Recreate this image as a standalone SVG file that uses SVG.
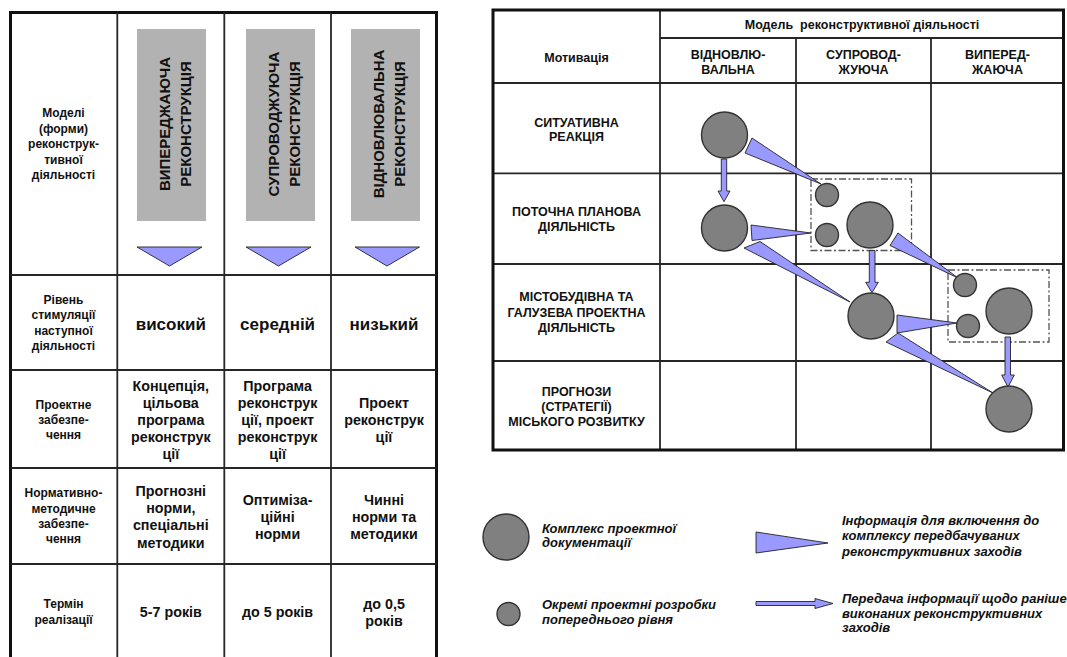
<svg xmlns="http://www.w3.org/2000/svg" width="1067" height="657" viewBox="0 0 1067 657">
  <style>
    text { font-family: "Liberation Sans", Arial, sans-serif; font-weight: bold; fill: #111; text-anchor: middle; }
    .lbl { font-size: 12px; }
    .big { font-size: 17px; }
    .val { font-size: 14.3px; }
    .vert { font-size: 15px; }
    .hdr { font-size: 12.5px; }
    .leg { font-size: 13px; font-style: italic; text-anchor: start; }
    .outer { fill: none; stroke: #111; stroke-width: 3; }
    .grid { stroke: #262626; stroke-width: 1.8; fill: none; }
    .band { fill: #b2b2b2; }
    .wedge { fill: #9999ff; stroke: #222; stroke-width: 0.9; stroke-linejoin: miter; }
    .doc { fill: #808080; stroke: #333; stroke-width: 1.4; }
    .group { fill: none; stroke: #555; stroke-width: 1.3; stroke-dasharray: 7 2.5 2 2.5; }
  </style>

  <!-- ===== Left table: models of reconstruction activity ===== -->
  <g id="left-table">
    <rect class="outer" x="10.5" y="12.5" width="426" height="670"/>
    <path class="grid" d="M117.3 12.5V670 M224.3 12.5V670 M331 12.5V670 M10.5 275H436.5 M10.5 370H436.5 M10.5 468H436.5 M10.5 564H436.5"/>
  </g>

  <g id="left-header">
    <text class="lbl"><tspan x="63.5" y="117">Моделі</tspan><tspan x="63.5" y="132.5">(форми)</tspan><tspan x="63.5" y="148">реконструк-</tspan><tspan x="63.5" y="163.5">тивної</tspan><tspan x="63.5" y="179">діяльності</tspan></text>
  </g>

  <g id="col-advance">
    <rect class="band" x="137" y="29" width="69" height="192"/>
    <text class="vert" transform="translate(170 124) rotate(-90)" x="0" y="0">ВИПЕРЕДЖАЮЧА</text>
    <text class="vert" transform="translate(191 124) rotate(-90)" x="0" y="0">РЕКОНСТРУКЦІЯ</text>
    <polygon class="wedge" points="137,247 202,247 169.5,266"/>
  </g>
  <g id="col-accompany">
    <rect class="band" x="246" y="29" width="69" height="192"/>
    <text class="vert" transform="translate(279 124) rotate(-90)" x="0" y="0">СУПРОВОДЖУЮЧА</text>
    <text class="vert" transform="translate(300 124) rotate(-90)" x="0" y="0">РЕКОНСТРУКЦІЯ</text>
    <polygon class="wedge" points="246,247 311,247 278.5,266"/>
  </g>
  <g id="col-restore">
    <rect class="band" x="351" y="29" width="69" height="192"/>
    <text class="vert" transform="translate(384 124) rotate(-90)" x="0" y="0">ВІДНОВЛЮВАЛЬНА</text>
    <text class="vert" transform="translate(405 124) rotate(-90)" x="0" y="0">РЕКОНСТРУКЦІЯ</text>
    <polygon class="wedge" points="355,247 419.5,247 387,266"/>
  </g>

  <g id="row-stimulation">
    <text class="lbl"><tspan x="63.5" y="304">Рівень</tspan><tspan x="63.5" y="319">стимуляції</tspan><tspan x="63.5" y="335">наступної</tspan><tspan x="63.5" y="350">діяльності</tspan></text>
    <text class="big" x="170.8" y="330">високий</text>
    <text class="big" x="277.6" y="330">середній</text>
    <text class="big" x="384" y="330">низький</text>
  </g>

  <g id="row-project">
    <text class="lbl"><tspan x="63.5" y="409">Проектне</tspan><tspan x="63.5" y="424">забезпе-</tspan><tspan x="63.5" y="438.5">чення</tspan></text>
    <text class="val"><tspan x="170.8" y="391">Концепція,</tspan><tspan x="170.8" y="408">цільова</tspan><tspan x="170.8" y="425">програма</tspan><tspan x="170.8" y="442">реконструк</tspan><tspan x="170.8" y="459">ції</tspan></text>
    <text class="val"><tspan x="277.6" y="391">Програма</tspan><tspan x="277.6" y="408">реконструк</tspan><tspan x="277.6" y="425">ції, проект</tspan><tspan x="277.6" y="442">реконструк</tspan><tspan x="277.6" y="459">ції</tspan></text>
    <text class="val"><tspan x="384" y="408">Проект</tspan><tspan x="384" y="425">реконструк</tspan><tspan x="384" y="442">ції</tspan></text>
  </g>

  <g id="row-norms">
    <text class="lbl"><tspan x="63.5" y="497">Нормативно-</tspan><tspan x="63.5" y="513">методичне</tspan><tspan x="63.5" y="528">забезпе-</tspan><tspan x="63.5" y="543">чення</tspan></text>
    <text class="val"><tspan x="170.8" y="496">Прогнозні</tspan><tspan x="170.8" y="513">норми,</tspan><tspan x="170.8" y="530">спеціальні</tspan><tspan x="170.8" y="548">методики</tspan></text>
    <text class="val"><tspan x="277.6" y="505">Оптиміза-</tspan><tspan x="277.6" y="522">ційні</tspan><tspan x="277.6" y="539">норми</tspan></text>
    <text class="val"><tspan x="384" y="505">Чинні</tspan><tspan x="384" y="522">норми та</tspan><tspan x="384" y="539">методики</tspan></text>
  </g>

  <g id="row-term">
    <text class="lbl"><tspan x="63.5" y="608">Термін</tspan><tspan x="63.5" y="624">реалізації</tspan></text>
    <text class="val" x="170.8" y="617">5-7 років</text>
    <text class="val" x="277.6" y="617">до 5 років</text>
    <text class="val"><tspan x="384" y="609">до 0,5</tspan><tspan x="384" y="626">років</tspan></text>
  </g>

  <!-- ===== Right table: motivation vs. model ===== -->
  <g id="right-table">
    <path class="grid" d="M660 10V450 M796 38V450 M931 38V450 M660 38H1063.5 M493 83H1063.5 M493 173.3H1063.5 M493 264H1063.5 M493 361H1063.5"/>
    <rect class="outer" x="493" y="10" width="570.5" height="440"/>
  </g>

  <g id="right-header">
    <text class="hdr" x="862" y="29" font-size="12.2">Модель&#160; реконструктивної діяльності</text>
    <text class="hdr" x="576.5" y="62">Мотивація</text>
    <text class="hdr"><tspan x="728" y="59">ВІДНОВЛЮ-</tspan><tspan x="728" y="74">ВАЛЬНА</tspan></text>
    <text class="hdr"><tspan x="863.5" y="59">СУПРОВОД-</tspan><tspan x="863.5" y="74">ЖУЮЧА</tspan></text>
    <text class="hdr"><tspan x="997.5" y="59">ВИПЕРЕД-</tspan><tspan x="997.5" y="74">ЖАЮЧА</tspan></text>
  </g>

  <g id="row-labels">
    <text class="hdr"><tspan x="576.5" y="127">СИТУАТИВНА</tspan><tspan x="576.5" y="141">РЕАКЦІЯ</tspan></text>
    <text class="hdr"><tspan x="576.5" y="216">ПОТОЧНА ПЛАНОВА</tspan><tspan x="576.5" y="231">ДІЯЛЬНІСТЬ</tspan></text>
    <text class="hdr"><tspan x="576.5" y="301">МІСТОБУДІВНА ТА</tspan><tspan x="576.5" y="317">ГАЛУЗЕВА ПРОЕКТНА</tspan><tspan x="576.5" y="332">ДІЯЛЬНІСТЬ</tspan></text>
    <text class="hdr"><tspan x="576.5" y="396">ПРОГНОЗИ</tspan><tspan x="576.5" y="411">(СТРАТЕГІЇ)</tspan><tspan x="576.5" y="426">МІСЬКОГО РОЗВИТКУ</tspan></text>
  </g>

  <!-- preliminary-work groupings -->
  <g id="group-accompany">
    <rect class="group" x="811" y="179" width="100.5" height="71.5"/>
  </g>
  <g id="group-advance">
    <rect class="group" x="948" y="270" width="101" height="72"/>
  </g>

  <!-- information flows -->
  <g id="connectors">
    <polygon class="wedge" points="752,138 745,153 821,184"/>
    <polygon class="wedge" points="751,225 752,240.5 811,233"/>
    <polygon class="wedge" points="760,241.5 744,248 850,302"/>
    <polygon class="wedge" points="898,233 890,245.5 958,278"/>
    <polygon class="wedge" points="897,315 897,333 957,323"/>
    <polygon class="wedge" points="898,333 886,342 993,393"/>
    <polygon class="wedge" points="721.3,159 726.7,159 726.7,191 730,191 724,201.7 718,191 721.3,191"/>
    <polygon class="wedge" points="869.3,250.5 875,250.5 875,282.3 878.3,282.3 872,292.7 865.7,282.3 869.3,282.3"/>
    <polygon class="wedge" points="1005,337 1010.5,337 1010.5,375 1014.3,375 1008,387 1001.7,375 1005,375"/>
  </g>

  <!-- project documentation complexes -->
  <g id="node-restore-situational"><circle class="doc" cx="724.5" cy="135" r="23"/></g>
  <g id="node-restore-current"><circle class="doc" cx="724.5" cy="228" r="23"/></g>
  <g id="node-accompany-small-1"><circle class="doc" cx="827" cy="195" r="11.5"/></g>
  <g id="node-accompany-small-2"><circle class="doc" cx="827" cy="235" r="11.5"/></g>
  <g id="node-accompany-current"><circle class="doc" cx="870" cy="225" r="23"/></g>
  <g id="node-accompany-urban"><circle class="doc" cx="871" cy="316" r="23"/></g>
  <g id="node-advance-small-1"><circle class="doc" cx="965" cy="285" r="11.5"/></g>
  <g id="node-advance-small-2"><circle class="doc" cx="968" cy="326" r="11.5"/></g>
  <g id="node-advance-urban"><circle class="doc" cx="1009" cy="311" r="23"/></g>
  <g id="node-advance-forecast"><circle class="doc" cx="1009" cy="409" r="23"/></g>

  <!-- ===== Legend ===== -->
  <g id="legend-complex">
    <circle class="doc" cx="506" cy="537" r="23"/>
    <text class="leg"><tspan x="542" y="533">Комплекс проектної</tspan><tspan x="542" y="547">документації</tspan></text>
  </g>
  <g id="legend-preliminary">
    <circle class="doc" cx="508.5" cy="614" r="11.5"/>
    <text class="leg"><tspan x="542" y="609">Окремі проектні розробки</tspan><tspan x="542" y="624">попереднього рівня</tspan></text>
  </g>
  <g id="legend-info">
    <polygon class="wedge" points="756,532 756,553 828,543"/>
    <text class="leg"><tspan x="842" y="525">Інформація для включення до</tspan><tspan x="842" y="540">комплексу передбачуваних</tspan><tspan x="842" y="556">реконструктивних заходів</tspan></text>
  </g>
  <g id="legend-transfer">
    <polygon class="wedge" points="756,601.5 815,601.5 815,598.5 833,603.5 815,608.5 815,605.5 756,605.5"/>
    <text class="leg"><tspan x="842" y="603">Передача інформації щодо раніше</tspan><tspan x="842" y="618">виконаних реконструктивних</tspan><tspan x="842" y="632">заходів</tspan></text>
  </g>
</svg>
